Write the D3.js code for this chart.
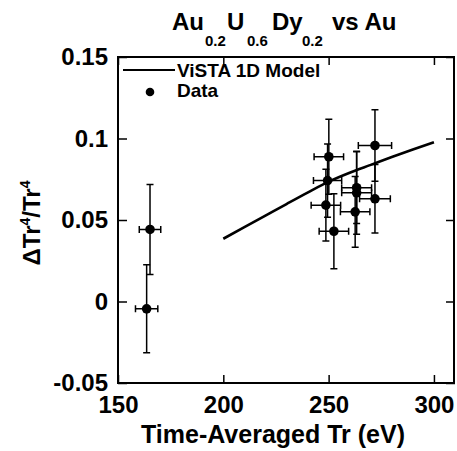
<!DOCTYPE html>
<html>
<head>
<meta charset="utf-8">
<script src="https://cdn.jsdelivr.net/npm/d3@7"></script>
<style>
  body { margin: 0; background: #fff; }
  svg { display: block; font-family: "Liberation Sans", Arial, Helvetica, sans-serif; font-weight: bold; }
</style>
</head>
<body>
<div id="chart"></div>
<script>
/* ---------- data ---------- */
const dataTr    = [165.2, 163.6, 250.1, 249.5, 248.7, 252.5, 263.3, 263.3, 262.6, 272.0, 272.0];
const dataDelta = [0.0442, -0.0045, 0.0888, 0.0742, 0.0591, 0.0431, 0.0698, 0.0667, 0.0550, 0.0957, 0.0630];
const errTr     = [5.1, 5.3, 7.0, 6.7, 7.0, 7.0, 7.1, 7.1, 7.0, 7.9, 7.3];
const errDelta  = [0.0276, 0.027, 0.023, 0.0225, 0.022, 0.023, 0.022, 0.0255, 0.0217, 0.022, 0.021];

const modelTr    = [200, 210, 220, 230, 240, 250, 260, 270, 280, 290, 300];
const modelDelta = [0.0385, 0.0456, 0.0527, 0.0598, 0.0668, 0.0735, 0.0790, 0.0838, 0.0886, 0.0932, 0.0977];

const xTicks = [150, 200, 250, 300];
const yTicks = [-0.05, 0, 0.05, 0.1, 0.15];

/* ---------- layout ---------- */
const W = 457, H = 451;
const M = { top: 57, right: 2, bottom: 68, left: 118 };

const svg = d3.select('#chart').append('svg')
  .attr('width', W).attr('height', H);

const x = d3.scaleLinear().domain([150, 310]).range([M.left, W - M.right]);
const y = d3.scaleLinear().domain([-0.05, 0.15]).range([H - M.bottom, M.top]);

// plain hyphen for negatives, like the original
const fmtY = d => String(+d.toFixed(2));

/* axes: ticks pointing inward */
const gx = svg.append('g')
  .attr('transform', `translate(0,${H - M.bottom})`)
  .call(d3.axisBottom(x).tickValues(xTicks).tickSizeInner(-8).tickSizeOuter(0).tickPadding(13));
const gy = svg.append('g')
  .attr('transform', `translate(${M.left},0)`)
  .call(d3.axisLeft(y).tickValues(yTicks).tickFormat(fmtY).tickSizeInner(-9).tickSizeOuter(0).tickPadding(10));
const gt = svg.append('g')
  .attr('transform', `translate(0,${M.top})`)
  .call(d3.axisTop(x).tickValues(xTicks).tickFormat('').tickSizeInner(-8).tickSizeOuter(0));
const gr = svg.append('g')
  .attr('transform', `translate(${W - M.right},0)`)
  .call(d3.axisRight(y).tickValues(yTicks).tickFormat('').tickSizeInner(-9).tickSizeOuter(0));

[gx, gy, gt, gr].forEach(g => {
  g.select('.domain').remove();
  g.selectAll('.tick line').attr('stroke', '#000').attr('stroke-width', 1.5);
  g.selectAll('.tick text').attr('fill', '#000').attr('font-size', 24).attr('font-family', null);
});

/* frame */
svg.append('rect')
  .attr('x', M.left).attr('y', M.top)
  .attr('width', W - M.right - M.left - 1)
  .attr('height', H - M.bottom - M.top)
  .attr('fill', 'none').attr('stroke', '#000').attr('stroke-width', 2);

/* model curve */
const model = modelTr.map((t, i) => ({ t, v: modelDelta[i] }));
svg.append('path')
  .datum(model)
  .attr('fill', 'none')
  .attr('stroke', '#000')
  .attr('stroke-width', 2.6)
  .attr('d', d3.line().x(d => x(d.t)).y(d => y(d.v)).curve(d3.curveMonotoneX));

/* data with error bars */
const pts = dataTr.map((t, i) => ({ t, v: dataDelta[i], et: errTr[i], ev: errDelta[i] }));
const cap = 3.5;
const eb = svg.append('g').attr('stroke', '#000').attr('stroke-width', 1.5).attr('fill', 'none');
pts.forEach(d => {
  const cx = x(d.t), cy = y(d.v);
  const y0 = y(d.v - d.ev), y1 = y(d.v + d.ev);
  const x0 = x(d.t - d.et), x1 = x(d.t + d.et);
  eb.append('path').attr('d',
    `M${cx},${y0}V${y1}M${cx - cap},${y0}H${cx + cap}M${cx - cap},${y1}H${cx + cap}` +
    `M${x0},${cy}H${x1}M${x0},${cy - cap}V${cy + cap}M${x1},${cy - cap}V${cy + cap}`);
});
svg.append('g').selectAll('circle')
  .data(pts)
  .join('circle')
    .attr('cx', d => x(d.t))
    .attr('cy', d => y(d.v))
    .attr('r', 4.8)
    .attr('fill', '#000');

/* legend */
svg.append('line')
  .attr('x1', 123).attr('x2', 175).attr('y1', 70).attr('y2', 70)
  .attr('stroke', '#000').attr('stroke-width', 2.2);
svg.append('text').attr('x', 177).attr('y', 77).attr('font-size', 19).text('ViSTA 1D Model');
svg.append('circle').attr('cx', 150).attr('cy', 92).attr('r', 4.3).attr('fill', '#000');
svg.append('text').attr('x', 177).attr('y', 97).attr('font-size', 19).text('Data');

/* title */
const title = svg.append('text').attr('y', 30).attr('font-size', 24);
title.append('tspan').attr('x', 172).text('Au');
title.append('tspan').attr('x', 205).attr('y', 46).attr('font-size', 15).text('0.2');
title.append('tspan').attr('x', 227).attr('y', 30).text('U');
title.append('tspan').attr('x', 247).attr('y', 46).attr('font-size', 15).text('0.6');
title.append('tspan').attr('x', 272).attr('y', 30).text('Dy');
title.append('tspan').attr('x', 302).attr('y', 46).attr('font-size', 15).text('0.2');
title.append('tspan').attr('x', 332).attr('y', 30).text('vs Au');

/* axis titles */
svg.append('text')
  .attr('x', 273).attr('y', 443)
  .attr('text-anchor', 'middle')
  .attr('font-size', 25)
  .text('Time-Averaged Tr (eV)');

const yl = svg.append('text')
  .attr('transform', 'translate(40,223) rotate(-90)')
  .attr('text-anchor', 'middle')
  .attr('font-size', 24);
yl.append('tspan').text('\u0394Tr');
yl.append('tspan').attr('dy', -10).attr('font-size', 14).text('4');
yl.append('tspan').attr('dy', 10).text('/Tr');
yl.append('tspan').attr('dy', -10).attr('font-size', 14).text('4');
</script>
</body>
</html>
